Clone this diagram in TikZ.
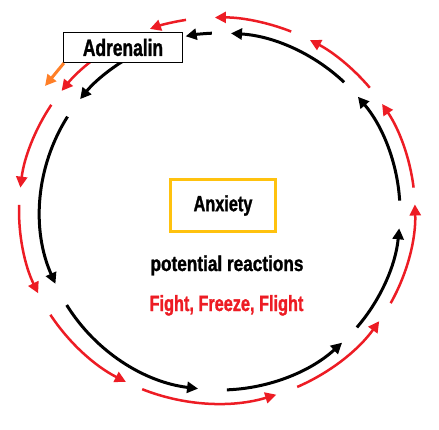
\documentclass[tikz,border=0pt]{standalone}
\usepackage{fontspec}
\usetikzlibrary{arrows.meta}
\newfontfamily\agency[FakeStretch=0.74, FakeBold=1.2]{Liberation Sans}
\newfontfamily\agencyw[FakeStretch=0.8, FakeBold=1.2]{Liberation Sans}
\definecolor{pred}{HTML}{ED1C24}
\definecolor{porange}{HTML}{FF7F27}
\definecolor{pyellow}{HTML}{FFC20E}
\begin{document}
\begin{tikzpicture}[x=1pt,y=1pt,
  barc/.style={line width=3pt, draw=black, -{Triangle[length=11pt,width=11pt]}},
  rarc/.style={line width=2.5pt, draw=pred, -{Triangle[length=11pt,width=11pt]}},
  oarr/.style={line width=3pt, draw=porange, -{Triangle[length=11pt,width=11pt]}},
  lbl/.style={font=\agency\bfseries\fontsize{22}{22}\selectfont, inner sep=0pt},
  adrbox/.style={lbl, draw=black, line width=1.2pt, fill=white, minimum width=119pt, minimum height=30pt, font=\agency\bfseries\fontsize{23.5}{23.5}\selectfont},
  anxbox/.style={lbl, draw=pyellow, line width=3pt, fill=white, minimum width=105pt, minimum height=52pt}
]
\useasboundingbox (0,0) rectangle (439,429);
\fill[white] (0,0) rectangle (439,429);
\coordinate (bc) at (220,217.5);
\coordinate (rc) at (217,218.5);
% black inner arcs
\foreach \a/\b in {3.5/40, 46.4/86.5, 92.6/101, 118/141, 147.9/203.9, 211.6/263, 272.2/312.7, 319.5/354.6}
  \draw[barc] ([shift={(\a:180 and 178.5)}]bc) arc[start angle=\a, end angle=\b, x radius=180, y radius=178.5];
% red outer arcs
\foreach \a/\b in {331.3/361.8, 6.8/33.5, 39.5/62, 68/90.6, 99/109.8, 120/141.7, 146.8/173.2, 178.3/205.4, 212.7/242.6, 247.8/287.4, 293.9/325}
  \draw[rarc] ([shift={(\a:198 and 193)}]rc) arc[start angle=\a, end angle=\b, x radius=198, y radius=193];
% boxes and labels
\node[adrbox] (adr) at (123,381.5) {Adrenalin};
\node[anxbox] (anx) at (223,223.5) {Anxiety};
\node[lbl, anchor=base, font=\agencyw\bfseries\fontsize{21.5}{21.5}\selectfont] (pot) at (227,158) {potential reactions};
\node[lbl, anchor=base, text=pred] (ffs) at (226.5,118) {Fight, Freeze, Flight};
\coordinate (otip) at (45,343);
\draw[oarr] ([shift={(1pt,0pt)}]adr.south west) -- (otip);
\end{tikzpicture}
\end{document}
